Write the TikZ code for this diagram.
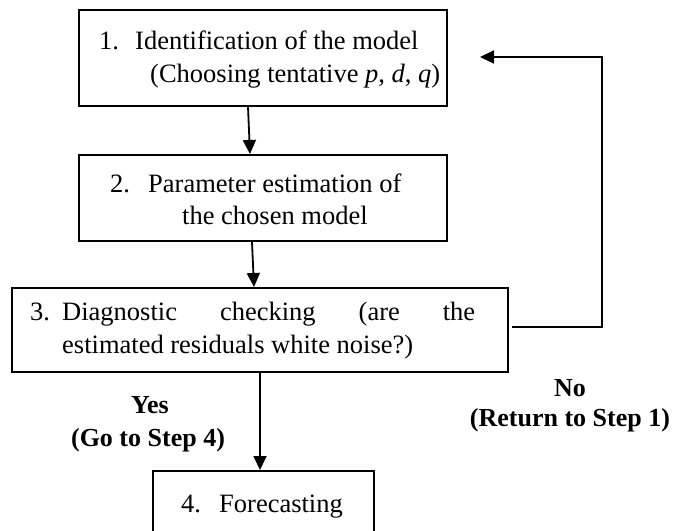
\documentclass[tikz,border=0pt]{standalone}
\usepackage{fontspec}
\setmainfont{Liberation Serif}
\usetikzlibrary{arrows.meta}
\begin{document}
\begin{tikzpicture}[x=1pt,y=-1pt,
  box/.style={draw=black,line width=2pt,inner sep=0pt},
  txt/.style={anchor=base west,inner sep=0pt,font=\fontsize{26.5}{33}\selectfont},
  lbl/.style={anchor=base,inner sep=0pt,font=\fontsize{26}{33}\selectfont\bfseries},
  arr/.style={line width=1.8pt,-{Triangle[length=14pt,width=13pt]}},
  fb/.style={line width=2pt}]
\useasboundingbox (0,0) rectangle (674,530);
% boxes
\node[box,minimum width=368pt,minimum height=96pt] (b1) at (263,58) {};
\node[box,minimum width=368pt,minimum height=86pt] (b2) at (263,198) {};
\node[box,minimum width=496pt,minimum height=84pt] (b3) at (260,330) {};
\node[box,minimum width=221pt,minimum height=62pt] (b4) at (263.5,502) {};
% texts
\node[txt] (b1n) at (99,49) {1.};
\node[txt] (b1a) at (135,49) {Identification of the model};
\node[txt] (b1b) at (150,82) {(Choosing tentative \textit{p}, \textit{d}, \textit{q})};
\node[txt] (b2n) at (110,192) {2.};
\node[txt] (b2a) at (148,192) {Parameter estimation of};
\node[txt] (b2b) at (182,224) {the chosen model};
\node[txt] (b3n) at (30,320) {3.};
\node[txt] (b3a) at (62,320) {\makebox[413pt][s]{Diagnostic checking (are the}};
\node[txt] (b3b) at (62,353) {estimated residuals white noise?)};
\node[txt] (b4n) at (181,512) {4.};
\node[txt] (b4a) at (219,512) {Forecasting};
% labels
\node[lbl] (yes) at (150,413) {Yes};
\node[lbl] (go) at (148,446) {(Go to Step 4)};
\node[lbl] (no) at (570,396) {No};
\node[lbl] (ret) at (570,426) {(Return to Step 1)};
% arrows
\draw[arr] (b1.south -| 248,0) -- (b2.north -| 250,0);
\draw[arr] (b2.south -| 252,0) -- (b3.north -| 254,0);
\draw[arr] (b3.south -| 260,0) -- (b4.north -| 260,0);
% feedback
\coordinate (fA) at (512,327);
\coordinate (fB) at (602,327);
\coordinate (fC) at (602,57);
\coordinate (fD) at (480,57);
\draw[fb] (fA) -- (fB) -- (fC) -- ([xshift=8pt]fD);
\draw[arr] ([xshift=9pt]fD) -- (fD);
\end{tikzpicture}
\end{document}
